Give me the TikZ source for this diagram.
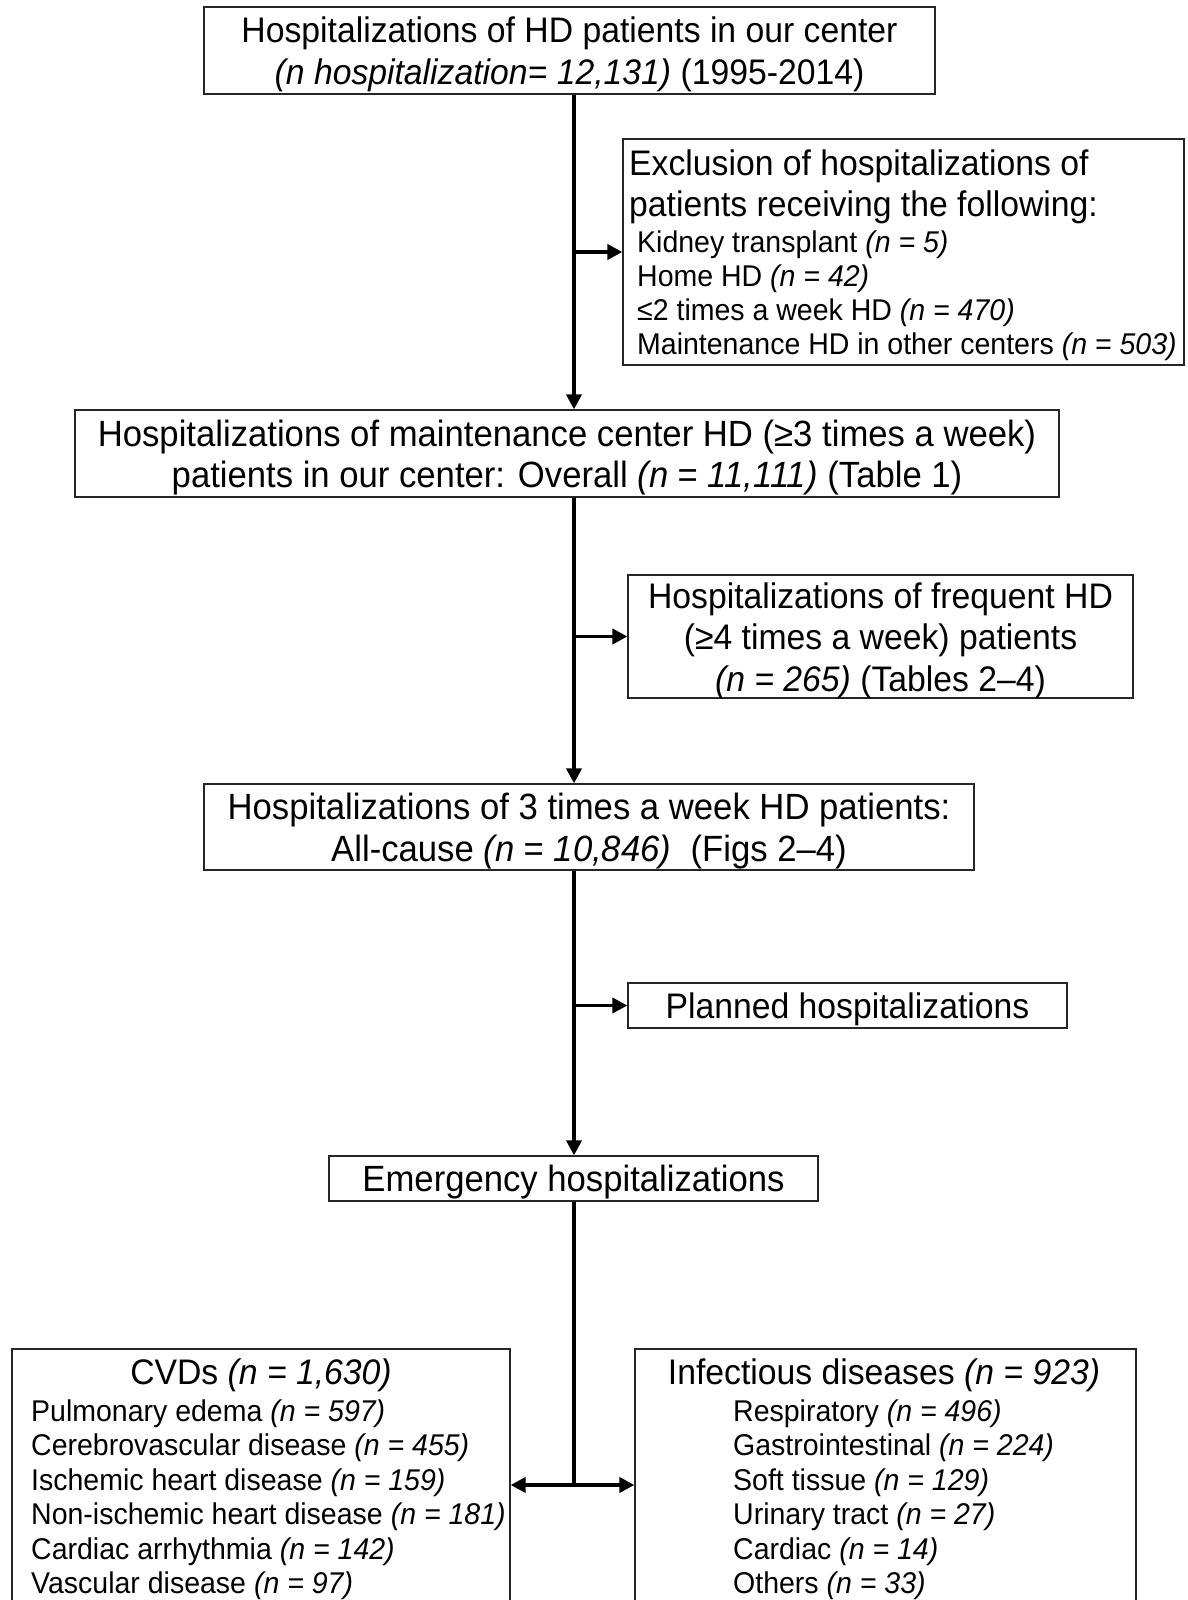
\documentclass[tikz,border=0pt]{standalone}
\usepackage{fontspec}
\setmainfont{Liberation Sans}[FakeStretch=0.95]
\usetikzlibrary{arrows.meta}
\newcommand\bigfs{\fontsize{35.5}{41.5}\selectfont}
\newcommand\bigbfs{\fontsize{36.5}{41.5}\selectfont}
\newcommand\smfs{\fontsize{30}{34.5}\selectfont}
\begin{document}
\begin{tikzpicture}[x=1pt,y=-1pt,
  box/.style={draw=black!85, line width=1.2pt, inner sep=0pt},
  btext/.style={inner sep=0pt, font=\bigfs, align=center},
  btextb/.style={inner sep=0pt, font=\bigbfs, align=center},
  flow/.style={line width=3.6pt, -{Triangle[length=15pt,width=15pt]}},
  spine/.style={line width=3.6pt},
  txt/.style={inner sep=0pt, anchor=base west, font=\smfs},
  hdr/.style={inner sep=0pt, font=\bigfs}]
\useasboundingbox (0,0) rectangle (1187,1600);
\clip (0,0) rectangle (1187,1600);
\coordinate (sp) at (574,0);

\node[box, minimum width=731pt, minimum height=87pt] (top) at (569.5,50.5) {};
\node[btext] (topt) at (569.5,54.5)
  {Hospitalizations of HD patients in our center\\ \textit{(n hospitalization= 12,131)} (1995-2014)};

\node[box, minimum width=561pt, minimum height=226pt] (excl) at (903.5,252) {};
\node[hdr, anchor=base west] (e1) at (629,175) {Exclusion of hospitalizations of};
\node[hdr, anchor=base west] (e2) at (629,216) {patients receiving the following:};
\node[txt] (e3) at (637,252) {Kidney transplant \textit{(n = 5)}};
\node[txt] (e4) at (637,286) {Home HD \textit{(n = 42)}};
\node[txt] (e5) at (637,320) {≤2 times a week HD \textit{(n = 470)}};
\node[txt] (e6) at (637,354) {Maintenance HD in other centers \textit{(n = 503)}};

\node[box, minimum width=984pt, minimum height=87pt] (b2) at (567,453.5) {};
\node[btextb] (b2t) at (567,457.5)
  {Hospitalizations of maintenance center HD (≥3 times a week)\\ patients in our center: Overall \textit{(n = 11,111)} (Table 1)};

\node[box, minimum width=505pt, minimum height=123pt] (b3) at (880.5,636.5) {};
\node[btext] (b3t) at (880.5,640.5)
  {Hospitalizations of frequent HD\\ (≥4 times a week) patients\\ \textit{(n = 265)} (Tables 2–4)};

\node[box, minimum width=770pt, minimum height=86pt] (b4) at (589,827) {};
\node[btextb] (b4t) at (589,831)
  {Hospitalizations of 3 times a week HD patients:\\ All-cause \textit{(n = 10,846)}\ \ (Figs 2–4)};

\node[box, minimum width=439pt, minimum height=45pt] (plan) at (847.5,1005.5) {};
\node[btext] (plant) at (847.5,1009.5) {Planned hospitalizations};

\node[box, minimum width=489pt, minimum height=45pt] (emer) at (573.5,1178.5) {};
\node[btextb] (emert) at (573.5,1182.5) {Emergency hospitalizations};

\node[box, minimum width=498pt, minimum height=271pt] (cvd) at (261,1484.5) {};
\node[hdr, anchor=base] (c0) at (261,1384) {CVDs \textit{(n = 1,630)}};
\node[txt] (c1) at (31,1421) {Pulmonary edema \textit{(n = 597)}};
\node[txt] (c2) at (31,1455.5) {Cerebrovascular disease \textit{(n = 455)}};
\node[txt] (c3) at (31,1490) {Ischemic heart disease \textit{(n = 159)}};
\node[txt] (c4) at (31,1524.5) {Non-ischemic heart disease \textit{(n = 181)}};
\node[txt] (c5) at (31,1559) {Cardiac arrhythmia \textit{(n = 142)}};
\node[txt] (c6) at (31,1593.5) {Vascular disease \textit{(n = 97)}};

\node[box, minimum width=501pt, minimum height=271pt] (inf) at (885.5,1484.5) {};
\node[hdr, anchor=base] (i0) at (884,1384) {Infectious diseases \textit{(n = 923)}};
\node[txt] (i1) at (733,1421) {Respiratory \textit{(n = 496)}};
\node[txt] (i2) at (733,1455.5) {Gastrointestinal \textit{(n = 224)}};
\node[txt] (i3) at (733,1490) {Soft tissue \textit{(n = 129)}};
\node[txt] (i4) at (733,1524.5) {Urinary tract \textit{(n = 27)}};
\node[txt] (i5) at (733,1559) {Cardiac \textit{(n = 14)}};
\node[txt] (i6) at (733,1593.5) {Others \textit{(n = 33)}};

% connectors
\draw[flow] (top.south -| sp) -- (b2.north -| sp);
\draw[flow] (excl.west -| sp) -- (excl.west);
\draw[flow] (b2.south -| sp) -- (b4.north -| sp);
\draw[flow] (b3.west -| sp) -- (b3.west);
\draw[flow] (b4.south -| sp) -- (emer.north -| sp);
\draw[flow] (plan.west -| sp) -- (plan.west);
\coordinate (split) at (574,1485);
\draw[spine] (emer.south -| sp) -- ([yshift=-1.8pt]split);
\draw[flow] (split) -- (cvd.east |- split);
\draw[flow] (split) -- (inf.west |- split);
\end{tikzpicture}
\end{document}
